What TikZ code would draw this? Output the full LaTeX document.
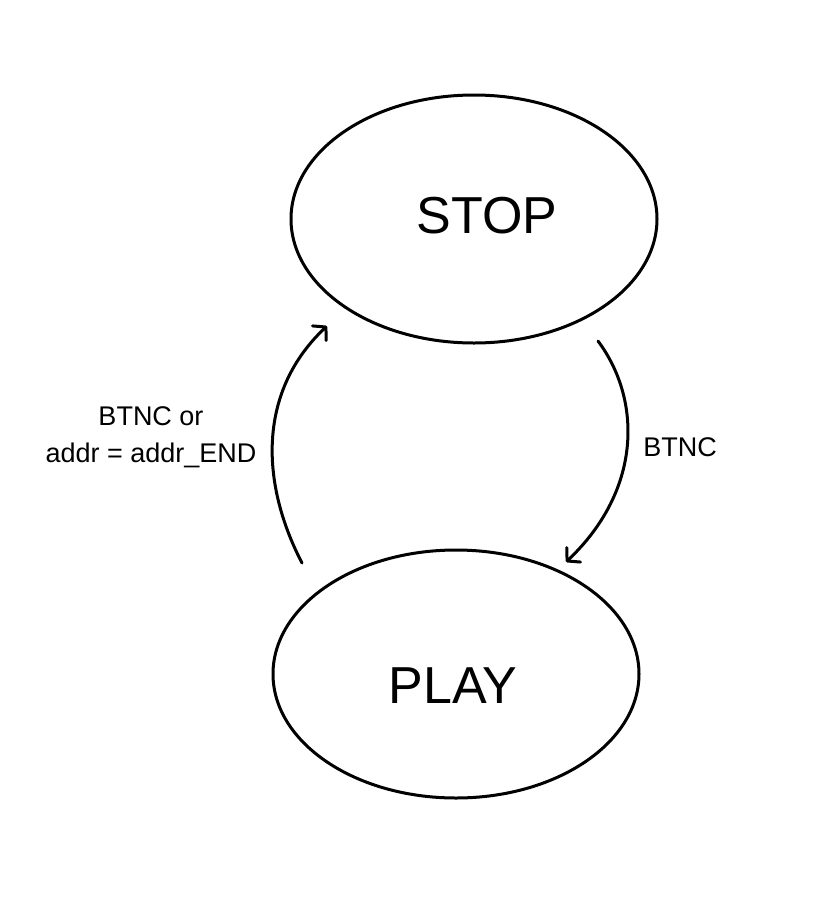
\documentclass[tikz,border=0pt]{standalone}
\usepackage{fontspec}
\setmainfont{Liberation Sans}
\usetikzlibrary{shapes.geometric,arrows.meta}
\begin{document}
\begin{tikzpicture}[x=1pt,y=-1pt,
  state/.style={draw=black,line width=3pt,ellipse,minimum width=366pt,minimum height=248pt,inner sep=0pt},
  statetext/.style={font=\fontsize{52}{60}\selectfont},
  lbl/.style={font=\fontsize{27}{32}\selectfont,inner sep=0pt,align=center},
  trans/.style={line width=3pt,line cap=round,-{Straight Barb[length=9pt,width=20pt,line width=3pt,round]}}]
\useasboundingbox[fill=white] (0,0) rectangle (840,898);
\node[state] (stop) at (474,219) {};
\node[statetext] (stoptext) at (487,216) {STOP};
\node[state] (play) at (456,674) {};
\node[statetext] (playtext) at (453,686) {PLAY};
\coordinate (ls) at (302,563);
\coordinate (le) at (327,326);
\coordinate (rs) at (598,341);
\coordinate (re) at (566,562);
\draw[trans] (ls) .. controls (259,480) and (259,390) .. (le);
\draw[trans] (rs) .. controls (642,400) and (642,490) .. (re);
\node[lbl] (llbl) at (151,437) {BTNC or\\[5pt]addr = addr\_END};
\node[lbl] (rlbl) at (680,447) {BTNC};
\end{tikzpicture}
\end{document}
